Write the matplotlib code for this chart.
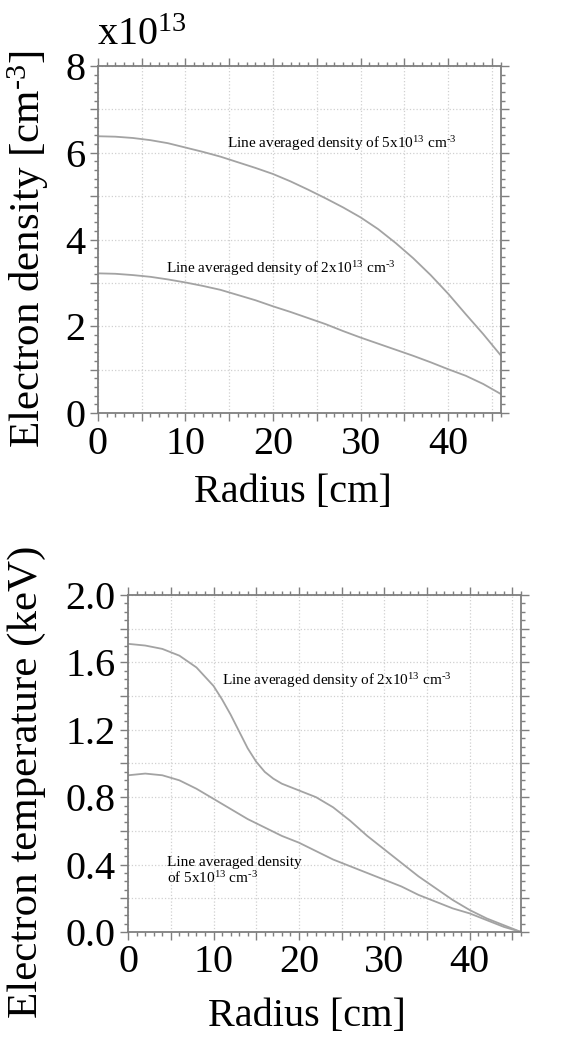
import matplotlib
matplotlib.use("Agg")
import matplotlib.pyplot as plt
from matplotlib.ticker import MultipleLocator, FuncFormatter

plt.rcParams["font.family"] = ["Liberation Serif", "DejaVu Serif"]
plt.rcParams["mathtext.fontset"] = "custom"
plt.rcParams["mathtext.rm"] = "Liberation Serif"

# electron density profiles [x1e13 cm^-3]
r_ne = [0, 2, 4, 6, 8, 10, 12, 14, 16, 18, 20, 22, 24, 26, 28, 30, 32, 34, 36, 38, 40, 42, 44, 46]
ne_high = [6.38, 6.37, 6.34, 6.29, 6.22, 6.12, 6.02, 5.91, 5.78, 5.65, 5.51, 5.34, 5.15, 4.95, 4.74,
           4.51, 4.24, 3.92, 3.57, 3.18, 2.75, 2.28, 1.82, 1.33]
ne_low = [3.22, 3.21, 3.18, 3.14, 3.08, 3.01, 2.93, 2.84, 2.72, 2.60, 2.46, 2.33, 2.19, 2.05, 1.89,
          1.74, 1.60, 1.46, 1.32, 1.17, 1.01, 0.86, 0.67, 0.44]

# electron temperature profiles [keV]
r_te = [0, 2, 4, 6, 8, 10, 11, 12, 13, 14, 15, 16, 17, 18, 20, 22, 24, 26, 28, 30, 32, 34, 36, 38,
        40, 42, 44, 46]
te_low_dens = [1.71, 1.70, 1.68, 1.64, 1.57, 1.46, 1.38, 1.29, 1.19, 1.09, 1.01, 0.95, 0.91, 0.88,
               0.84, 0.80, 0.74, 0.66, 0.57, 0.49, 0.41, 0.33, 0.26, 0.19, 0.13, 0.08, 0.04, 0.0]
te_high_dens = [0.93, 0.94, 0.93, 0.90, 0.85, 0.79, 0.76, 0.73, 0.70, 0.67, 0.645, 0.62, 0.595, 0.57,
                0.53, 0.48, 0.43, 0.39, 0.35, 0.31, 0.27, 0.22, 0.18, 0.14, 0.11, 0.07, 0.03, 0.0]

LINE = "#a3a3a3"
SPINE = "#7f7f7f"
SUP13 = r"$\mathregular{^{13}}$"
SUPM3 = "$\\mathregular{^{\u2010 3}}$".replace(" ", "")


def style_axes(ax, ymaj, yminor, ylabel_every, fmt):
    ax.set_xlim(0, 46)
    ax.xaxis.set_major_locator(MultipleLocator(5))
    ax.xaxis.set_minor_locator(MultipleLocator(1))
    ax.yaxis.set_major_locator(MultipleLocator(ymaj))
    ax.yaxis.set_minor_locator(MultipleLocator(yminor))
    ax.xaxis.set_major_formatter(
        FuncFormatter(lambda v, p: f"{v:.0f}" if abs(v % 10) < 1e-6 else ""))
    ax.yaxis.set_major_formatter(
        FuncFormatter(lambda v, p: fmt.format(v)
                      if abs((v / ylabel_every) - round(v / ylabel_every)) < 1e-6 else ""))
    ax.tick_params(which="both", direction="out", top=True, right=True,
                   color=SPINE, labelsize=29, width=1.0)
    ax.tick_params(which="major", length=6, pad=3)
    ax.tick_params(which="minor", length=3)
    for s in ax.spines.values():
        s.set_color(SPINE)
        s.set_linewidth(1.3)
    ax.grid(True, which="major", color="#d0d0d0", linestyle=":", linewidth=0.9)


fig = plt.figure(figsize=(5.62, 10.42), dpi=100)

# top: density
ax1 = fig.add_axes([0.174, 0.6036, 0.717, 0.3331])
ax1.plot(r_ne, ne_high, color=LINE, lw=1.3)
ax1.plot(r_ne, ne_low, color=LINE, lw=1.3)
ax1.set_ylim(0, 8)
style_axes(ax1, 1, 0.2, 2, "{:.0f}")
ax1.text(14.7, 6.22, "Line averaged density of 5x10" + SUP13 + " cm" + SUPM3,
         fontsize=11, va="center", ha="left")
ax1.text(7.8, 3.34, "Line averaged density of 2x10" + SUP13 + " cm" + SUPM3,
         fontsize=11, va="center", ha="left")
fig.text(0.172, 0.966, "x10" + SUP13, fontsize=29, ha="left", va="center")
fig.text(0.05, 0.761, "Electron density [cm" + SUPM3 + "]", fontsize=31,
         rotation=90, ha="center", va="center")
fig.text(0.522, 0.527, "Radius [cm]", fontsize=29, ha="center", va="center")

# bottom: temperature
ax2 = fig.add_axes([0.228, 0.1056, 0.699, 0.3234])
ax2.plot(r_te, te_low_dens, color=LINE, lw=1.3)
ax2.plot(r_te, te_high_dens, color=LINE, lw=1.3)
ax2.set_ylim(0, 2.0)
style_axes(ax2, 0.2, 0.05, 0.4, "{:.1f}")
ax2.text(11.0, 1.49, "Line averaged density of 2x10" + SUP13 + " cm" + SUPM3,
         fontsize=11, va="center", ha="left")
ax2.text(4.55, 0.36, "Line averaged density\nof 5x10" + SUP13 + " cm" + SUPM3,
         fontsize=11, va="center", ha="left", linespacing=1.1)
fig.text(0.048, 0.25, "Electron temperature (keV)", fontsize=31,
         rotation=90, ha="center", va="center")
fig.text(0.546, 0.024, "Radius [cm]", fontsize=29, ha="center", va="center")

fig.savefig("out.png", dpi=100)
